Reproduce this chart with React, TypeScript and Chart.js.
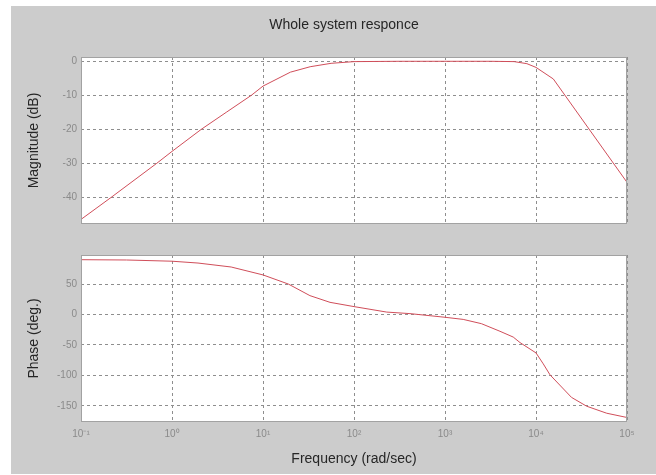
import { useEffect, useRef } from 'react';
import { Chart, registerables } from 'chart.js';

Chart.register(...registerables);

// ---- data ----
const magFreq = [0.1, 0.215, 0.68, 1, 2.1, 4.0, 7.45, 10, 20, 33, 56, 100, 316, 1000, 3162, 5750, 7940, 10000, 15500, 100000];
const magDb = [-46.5, -40, -30, -26.5, -20, -14.9, -10, -7.3, -3.2, -1.6, -0.6, -0.1, 0, 0, 0, -0.1, -0.7, -1.8, -5.2, -35.6];

const phaseFreq = [0.1, 0.316, 1, 1.93, 4.47, 10, 19, 32.8, 54.5, 100, 229, 412, 1000, 1585, 2512, 4018, 5623, 6668, 10000, 12023, 14256, 24547, 36058, 59841, 100000];
const phaseDeg = [90, 89.5, 87.5, 84.5, 78, 65, 50, 31, 20, 13, 4, 1.5, -4.5, -8, -15, -27.5, -37, -46, -63, -81, -99, -136, -150.5, -162, -169];

const freqTicks = [0.1, 1, 10, 100, 1000, 10000, 100000];
const freqTickLabels = ['10⁻¹', '10⁰', '10¹', '10²', '10³', '10⁴', '10⁵'];
const magTicks = [-40, -30, -20, -10, 0];
const phaseTicks = [-150, -100, -50, 0, 50];
const magRange = [-47.85, 1.26];
const phaseRange = [-176.4, 97.7];

const chartTitle = 'Whole system responce';
const magLabel = 'Magnitude (dB)';
const phaseLabel = 'Phase (deg.)';
const freqLabel = 'Frequency (rad/sec)';

const FONT = '"Liberation Sans", Arial, Helvetica, sans-serif';
const LINE_COLOR = 'rgb(208, 78, 90)';
const GRID_COLOR = '#8e8e8e';
const TICK_COLOR = '#8a8a8a';
const LABEL_COLOR = '#262626';

const panelPlugin = {
  id: 'panel',
  beforeDraw(chart: any) {
    const { ctx, chartArea: a } = chart;
    ctx.save();
    ctx.fillStyle = '#ffffff';
    ctx.fillRect(a.left, a.top, a.right - a.left, a.bottom - a.top);
    ctx.restore();
  },
  afterDraw(chart: any) {
    const { ctx, chartArea: a } = chart;
    ctx.save();
    ctx.strokeStyle = '#a2a2a2';
    ctx.lineWidth = 1;
    ctx.strokeRect(Math.round(a.left) + 0.5, Math.round(a.top) + 0.5, Math.round(a.right - a.left) - 1, Math.round(a.bottom - a.top) - 1);
    ctx.restore();
  },
};

const titlePlugin = {
  id: 'figTitle',
  afterDraw(chart: any) {
    const { ctx } = chart;
    ctx.save();
    ctx.fillStyle = LABEL_COLOR;
    ctx.font = `14px ${FONT}`;
    ctx.textAlign = 'center';
    ctx.textBaseline = 'middle';
    ctx.fillText(chartTitle, 344, 25);
    ctx.restore();
  },
};

function xScale(showLabels: boolean): any {
  return {
    type: 'logarithmic',
    min: freqTicks[0],
    max: freqTicks[freqTicks.length - 1],
    afterBuildTicks: (s: any) => {
      s.ticks = freqTicks.map((v) => ({ value: v }));
    },
    afterFit: (s: any) => {
      s.height = showLabels ? 53 : 16;
    },
    grid: { color: GRID_COLOR, lineWidth: 1, drawTicks: false },
    border: { display: false, dash: [3, 3] },
    ticks: {
      display: showLabels,
      autoSkip: false,
      maxRotation: 0,
      padding: 6,
      color: TICK_COLOR,
      font: { family: FONT, size: 10 },
      callback: (_v: any, i: number) => freqTickLabels[i],
    },
    title: {
      display: showLabels,
      text: freqLabel,
      color: LABEL_COLOR,
      font: { family: FONT, size: 14 },
      padding: { top: 0, bottom: 7.6 },
    },
  };
}

function yScale(range: number[], tickVals: number[], label: string): any {
  return {
    type: 'linear',
    min: range[0],
    max: range[1],
    afterBuildTicks: (s: any) => {
      s.ticks = tickVals.map((v) => ({ value: v }));
    },
    afterFit: (s: any) => {
      s.width = 81;
    },
    grid: { color: GRID_COLOR, lineWidth: 1, drawTicks: false },
    border: { display: false, dash: [3, 3] },
    ticks: {
      padding: 4,
      color: TICK_COLOR,
      font: { family: FONT, size: 10 },
    },
    title: {
      display: true,
      text: label,
      color: LABEL_COLOR,
      font: { family: FONT, size: 14 },
      padding: { top: 25.6, bottom: 0 },
    },
  };
}

function dataset(xs: number[], ys: number[]): any {
  return {
    data: xs.map((x, i) => ({ x, y: ys[i] })),
    borderColor: LINE_COLOR,
    borderWidth: 1,
    pointRadius: 0,
    tension: 0,
    fill: false,
  };
}

export default function App() {
  const magRef = useRef<HTMLCanvasElement>(null);
  const phRef = useRef<HTMLCanvasElement>(null);

  useEffect(() => {
    const common: any = {
      responsive: false,
      animation: false,
      devicePixelRatio: 1,
      plugins: { legend: { display: false }, tooltip: { enabled: false }, title: { display: false } },
      events: [],
    };
    const c1 = new Chart(magRef.current as HTMLCanvasElement, {
      type: 'line',
      data: { datasets: [dataset(magFreq, magDb)] },
      options: {
        ...common,
        layout: { padding: { left: 0, top: 57, right: 29, bottom: 0 } },
        scales: { x: xScale(false), y: yScale(magRange, magTicks, magLabel) },
      },
      plugins: [panelPlugin, titlePlugin],
    } as any);
    const c2 = new Chart(phRef.current as HTMLCanvasElement, {
      type: 'line',
      data: { datasets: [dataset(phaseFreq, phaseDeg)] },
      options: {
        ...common,
        layout: { padding: { left: 0, top: 15, right: 29, bottom: 0 } },
        scales: { x: xScale(true), y: yScale(phaseRange, phaseTicks, phaseLabel) },
      },
      plugins: [panelPlugin],
    } as any);
    return () => {
      c1.destroy();
      c2.destroy();
    };
  }, []);

  return (
    <div style={{ position: 'absolute', left: 0, top: 0, width: 656, height: 475, background: '#ffffff', overflow: 'hidden' }}>
      <div style={{ position: 'absolute', left: 11, top: 6, width: 645, height: 468, background: '#cccccc' }} />
      <canvas ref={magRef} width={656} height={240} style={{ position: 'absolute', left: 0, top: 0, width: 656, height: 240 }} />
      <canvas ref={phRef} width={656} height={235} style={{ position: 'absolute', left: 0, top: 240, width: 656, height: 235 }} />
    </div>
  );
}
